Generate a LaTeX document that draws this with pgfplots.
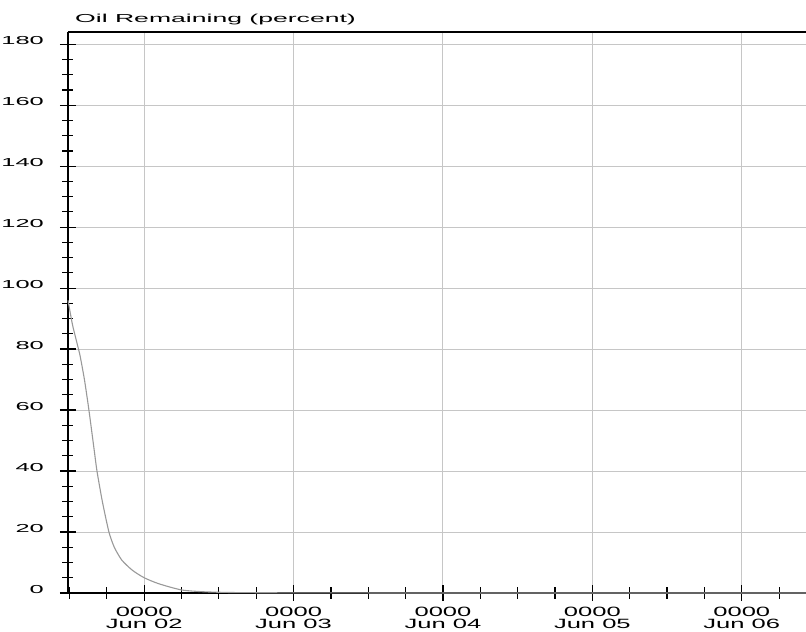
\documentclass[border=0pt]{standalone}
\usepackage{fontspec}
\usepackage{pgfplots}
\pgfplotsset{compat=1.18}
\setmainfont{Liberation Sans}
\newfontfamily\ywide[FakeStretch=2.2]{Liberation Sans}
\newfontfamily\twide[FakeStretch=2.3]{Liberation Sans}
\newfontfamily\xwide[FakeStretch=1.9]{Liberation Sans}

% Oil remaining (percent) against time in days since Jun 01 0000
\pgfplotstableread{
day    pct
0.49   96
0.52   88
0.55   82
0.57   78
0.60   70
0.63   60
0.665  47
0.684  40
0.72   30
0.764  20
0.80   15
0.85   10.8
0.92   7.5
1.00   5
1.10   3
1.25   1
1.40   0.4
1.60   0.15
2.00   0.05
3.00   0
5.43   0
}\oiltable

\begin{document}
\begin{tikzpicture}
\begin{axis}[
  scale only axis,
  width=738bp, height=561bp,
  xmin=0.49, xmax=5.43,
  ymin=0, ymax=184,
  axis x line*=bottom,
  axis y line*=left,
  axis line style={black, line width=1.4bp, -},
  xtick={1,2,3,4,5},
  xticklabels={{0000\\Jun 02},{0000\\Jun 03},{0000\\Jun 04},{0000\\Jun 05},{0000\\Jun 06}},
  minor xtick={0.5,0.75,1.25,1.5,1.75,2.25,2.5,2.75,3.25,3.5,3.75,4.25,4.5,4.75,5.25},
  ytick={0,20,...,180},
  minor ytick={5,10,15,25,30,35,45,50,55,65,70,75,85,90,95,105,110,115,125,130,135,145,150,155,165,170,175},
  /pgf/number format/assume math mode=true,
  tick align=center,
  major tick length=16bp,
  minor tick length=11bp,
  tick style={black, line width=1.2bp},
  grid=major,
  major grid style={gray!45, line width=1bp},
  xticklabel style={font=\xwide\fontsize{13.5}{12}\selectfont, align=center, inner sep=0pt, yshift=-6bp},
  yticklabel style={font=\ywide\fontsize{11.6}{12}\selectfont, anchor=base east, inner sep=0pt, xshift=-16bp},
  clip=false,
]
\addplot[gray!80, line width=1.1bp, no marks, smooth, tension=0.4] table[x=day, y=pct] {\oiltable};
\draw[black, line width=1.4bp] (rel axis cs:0,1) -- (rel axis cs:1,1);
\node[anchor=base west, inner sep=0pt, font=\twide\fontsize{11.6}{12}\selectfont]
  at (rel axis cs:0,1) [xshift=7bp, yshift=9bp] {Oil Remaining (percent)};
\end{axis}
\pgfresetboundingbox
\useasboundingbox (-68bp,-39bp) rectangle (738bp,593bp);
\end{tikzpicture}
\end{document}
